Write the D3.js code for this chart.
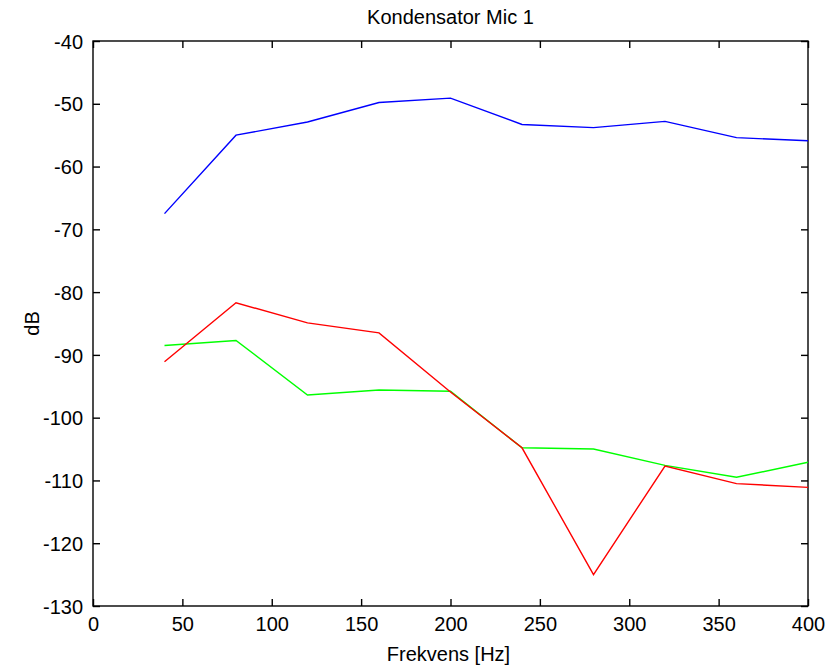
<!DOCTYPE html>
<html><head><meta charset="utf-8">
<script src="https://cdn.jsdelivr.net/npm/d3@7"></script>
<style>
body{margin:0;background:#fff;}
text{font-family:"Liberation Sans",Arial,sans-serif;}
</style></head>
<body><svg id="c" width="827" height="671"></svg>
<script>
const freqs = [40, 80, 120, 160, 200, 240, 280, 320, 360, 400];
const blueSeries = [-67.5, -55.0, -52.9, -49.8, -49.1, -53.3, -53.8, -52.8, -55.4, -55.9];
const redSeries  = [-91.1, -81.7, -84.9, -86.5, -95.9, -104.8, -125.0, -107.7, -110.5, -111.1];
const greenSeries= [-88.5, -87.7, -96.4, -95.6, -95.8, -104.8, -105.0, -107.6, -109.5, -107.1];
const xTicks = [0, 50, 100, 150, 200, 250, 300, 350, 400];
const yTicks = [-40, -50, -60, -70, -80, -90, -100, -110, -120, -130];
const title = "Kondensator Mic 1";
const xLabel = "Frekvens [Hz]";
const yLabel = "dB";

const L = 93, R = 808, T = 41, B = 606;
const svg = d3.select("#c");
const x = d3.scaleLinear().domain([0, 400]).range([L, R]);
const y = d3.scaleLinear().domain([-130, -40]).range([B, T]);
const fs = 20;

// frame
svg.append("rect").attr("x", L).attr("y", T).attr("width", R - L).attr("height", B - T)
  .attr("fill", "none").attr("stroke", "#000").attr("stroke-width", 1.4);

const g = svg.append("g");
// bottom axis
g.append("g").attr("transform", `translate(0,${B})`)
  .call(d3.axisBottom(x).tickValues(xTicks).tickSizeInner(-7).tickSizeOuter(0).tickPadding(11).tickFormat(d => String(d)))
  .call(a => a.select(".domain").remove())
  .call(a => a.selectAll("text").attr("font-size", fs).attr("fill", "#000").attr("dy", "0.72em"));
// top axis ticks
g.append("g").attr("transform", `translate(0,${T})`)
  .call(d3.axisTop(x).tickValues(xTicks).tickSize(-7).tickFormat(""))
  .call(a => a.select(".domain").remove());
// left axis
g.append("g").attr("transform", `translate(${L},0)`)
  .call(d3.axisLeft(y).tickValues(yTicks).tickSizeInner(-7).tickSizeOuter(0).tickPadding(10).tickFormat(d => String(d)))
  .call(a => a.select(".domain").remove())
  .call(a => a.selectAll("text").attr("font-size", fs).attr("fill", "#000").attr("dy", "0.36em"));
// right axis ticks
g.append("g").attr("transform", `translate(${R},0)`)
  .call(d3.axisRight(y).tickValues(yTicks).tickSize(-7).tickFormat(""))
  .call(a => a.select(".domain").remove());
g.selectAll(".tick line").attr("stroke", "#000").attr("stroke-width", 1.4);

const line = d3.line().x((d, i) => x(freqs[i])).y(d => y(d));
[[blueSeries, "#0000ff"], [greenSeries, "#00ff00"], [redSeries, "#ff0000"]].forEach(([s, c]) => {
  svg.append("path").datum(s).attr("d", line).attr("fill", "none").attr("stroke", c).attr("stroke-width", 1.4);
});

svg.append("text").attr("x", (L + R) / 2).attr("y", 24).attr("text-anchor", "middle")
  .attr("font-size", fs).text(title);
svg.append("text").attr("x", (L + R) / 2 - 2).attr("y", 661).attr("text-anchor", "middle")
  .attr("font-size", fs).text(xLabel);
svg.append("text").attr("transform", `translate(39,${(T + B) / 2}) rotate(-90)`).attr("text-anchor", "middle")
  .attr("font-size", fs).text(yLabel);
</script></body></html>
